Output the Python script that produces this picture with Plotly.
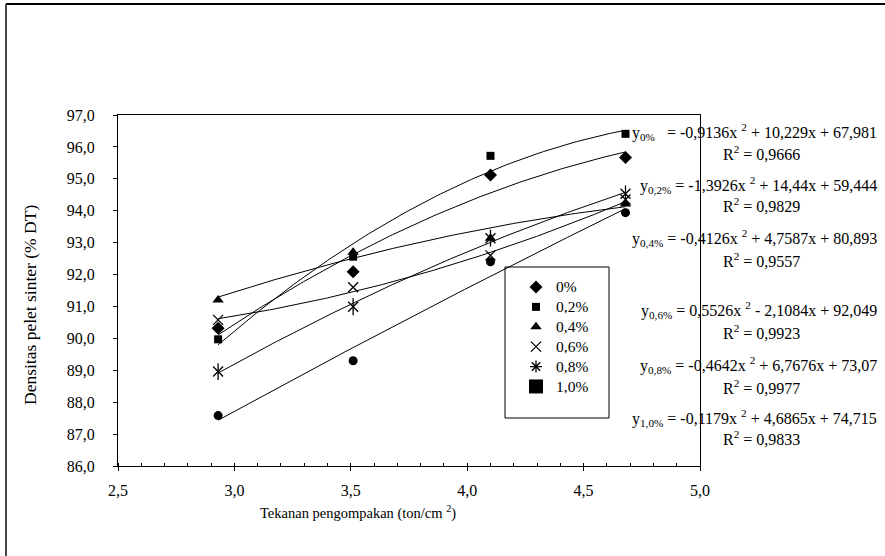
import numpy as np
import plotly.graph_objects as go

# ---------------- data ----------------
pressure = [2.93, 3.51, 4.10, 4.68]          # ton/cm^2
series_names = ["0%", "0,2%", "0,4%", "0,6%", "0,8%", "1,0%"]
dens_0 = [90.32, 92.09, 95.12, 95.67]
dens_02 = [89.97, 92.56, 95.72, 96.41]
dens_04 = [91.20, 92.70, 93.14, 94.21]
dens_06 = [90.58, 91.60, 92.60, 94.35]
dens_08 = [88.96, 90.99, 93.14, 94.53]
dens_10 = [87.58, 89.30, 92.40, 93.94]
# polynomial trend coefficients (a, b, c) as printed on the chart
coef_0 = [-0.9136, 10.229, 67.981]
coef_02 = [-1.3926, 14.44, 59.444]
coef_04 = [-0.4126, 4.7587, 80.893]
coef_06 = [0.5526, -2.1084, 92.049]
coef_08 = [-0.4642, 6.7676, 73.07]
coef_10 = [-0.1179, 4.6865, 74.715]
eq_labels = [
    "y<sub>0%</sub>   = -0,9136x <sup>2</sup> + 10,229x + 67,981",
    "y<sub>0,2%</sub> = -1,3926x <sup>2</sup> + 14,44x + 59,444",
    "y<sub>0,4%</sub> = -0,4126x <sup>2</sup> + 4,7587x + 80,893",
    "y<sub>0,6%</sub> = 0,5526x <sup>2</sup> - 2,1084x + 92,049",
    "y<sub>0,8%</sub> = -0,4642x <sup>2</sup> + 6,7676x + 73,07",
    "y<sub>1,0%</sub> = -0,1179x <sup>2</sup> + 4,6865x + 74,715",
]
r2_labels = ["R<sup>2</sup> = 0,9666", "R<sup>2</sup> = 0,9829", "R<sup>2</sup> = 0,9557",
             "R<sup>2</sup> = 0,9923", "R<sup>2</sup> = 0,9977", "R<sup>2</sup> = 0,9833"]
y_ticks = [86, 87, 88, 89, 90, 91, 92, 93, 94, 95, 96, 97]
x_ticks = [2.5, 3.0, 3.5, 4.0, 4.5, 5.0]

# ---------------- figure ----------------
W, H = 885, 556
L, R, T, B = 118, 185, 115, 90
PW, PH = W - L - R, H - T - B
FONT = "Liberation Serif, Times New Roman, serif"
FS = 16

def px(xp):
    return (xp - L) / PW

def py(yp):
    return (H - B - yp) / PH

def leg(name):
    return '<span style="font-size:15.5px">' + name + '</span>'

fig = go.Figure()

all_coef = [coef_0, coef_02, coef_04, coef_06, coef_08, coef_10]

# trend lines
xs = np.linspace(pressure[0], pressure[-1], 120)
for coef in all_coef:
    fig.add_trace(go.Scatter(x=xs, y=np.polyval(coef, xs), mode="lines",
                             line=dict(color="black", width=1),
                             showlegend=False, hoverinfo="skip"))

fig.add_trace(go.Scatter(x=pressure, y=dens_0, mode="markers", name=leg(series_names[0]),
                         marker=dict(symbol="diamond", size=10, color="black")))
fig.add_trace(go.Scatter(x=pressure, y=dens_02, mode="markers", name=leg(series_names[1]),
                         marker=dict(symbol="square", size=8, color="black")))
fig.add_trace(go.Scatter(x=pressure, y=dens_04, mode="markers", name=leg(series_names[2]),
                         marker=dict(symbol="triangle-up", size=10, color="black")))
fig.add_trace(go.Scatter(x=pressure, y=dens_06, mode="markers", name=leg(series_names[3]),
                         marker=dict(symbol="x-thin-open", size=10, color="black",
                                     line=dict(color="black", width=1.3))))
# 0.8%: X with a vertical bar (two overlaid symbols)
fig.add_trace(go.Scatter(x=pressure, y=dens_08, mode="markers", name=series_names[4],
                         marker=dict(symbol="x-thin-open", size=10, color="black",
                                     line=dict(color="black", width=1.3)),
                         showlegend=False))
fig.add_trace(go.Scatter(x=pressure, y=dens_08, mode="markers", name=series_names[4],
                         marker=dict(symbol="line-ns-open", size=12, color="black",
                                     line=dict(color="black", width=1.3)),
                         showlegend=False))
# legend version of the 0.8% marker
fig.add_trace(go.Scatter(x=[None], y=[None], mode="markers", name=leg(series_names[4]),
                         marker=dict(symbol="asterisk-open", size=10, color="black",
                                     line=dict(color="black", width=1.3))))
fig.add_trace(go.Scatter(x=pressure, y=dens_10, mode="markers", name=series_names[5],
                         marker=dict(symbol="circle", size=9, color="black"),
                         showlegend=False))
# legend shows a large square for 1,0%
fig.add_trace(go.Scatter(x=[None], y=[None], mode="markers", name=leg(series_names[5]),
                         marker=dict(symbol="square", size=14, color="black")))

ann = []
eq_y = [132, 185, 238, 310, 365, 418]
r2_y = [153, 205, 260, 332, 387, 438]
for lab, yy in zip(eq_labels, eq_y):
    ann.append(dict(xref="paper", yref="paper", x=px(879), y=py(yy), text=lab,
                    showarrow=False, xanchor="right", yanchor="middle",
                    font=dict(family=FONT, size=FS, color="black")))
for lab, yy in zip(r2_labels, r2_y):
    ann.append(dict(xref="paper", yref="paper", x=px(761), y=py(yy), text=lab,
                    showarrow=False, xanchor="center", yanchor="middle",
                    font=dict(family=FONT, size=FS, color="black")))
ann.append(dict(xref="paper", yref="paper", x=px(358), y=py(512),
                text="Tekanan pengompakan (ton/cm <sup>2</sup>)", showarrow=False,
                xanchor="center", yanchor="middle",
                font=dict(family=FONT, size=14.5, color="black")))
ann.append(dict(xref="paper", yref="paper", x=px(30), y=py(305),
                text="Densitas pelet sinter (% DT)", showarrow=False, textangle=-90,
                xanchor="center", yanchor="middle",
                font=dict(family=FONT, size=17.5, color="black")))

shapes = [
    # outer frame (top and left edges)
    dict(type="line", xref="paper", yref="paper", x0=px(6), x1=px(885), y0=py(4), y1=py(4),
         line=dict(color="black", width=2)),
    dict(type="line", xref="paper", yref="paper", x0=px(6), x1=px(6), y0=py(4), y1=py(556),
         line=dict(color="#444", width=2)),
    # legend box
    dict(type="rect", xref="paper", yref="paper", x0=px(505), x1=px(609), y0=py(418), y1=py(267),
         line=dict(color="black", width=1), fillcolor="rgba(0,0,0,0)", layer="above"),
]

axis_common = dict(showgrid=False, zeroline=False, showline=True, linecolor="black",
                   linewidth=1, mirror=True, ticks="outside", ticklen=4, tickcolor="black",
                   tickfont=dict(family=FONT, size=FS, color="black"))

fig.update_layout(
    width=W, height=H, margin=dict(l=L, r=R, t=T, b=B),
    paper_bgcolor="white", plot_bgcolor="white",
    separators=", ",
    font=dict(family=FONT, size=FS, color="black"),
    xaxis=dict(range=[2.5, 5.0], tickvals=x_ticks, tickformat=".1f",
               minor=dict(dtick=0.1, ticks="inside", ticklen=3, tickcolor="black"),
               ticklabelstandoff=6, **axis_common),
    yaxis=dict(range=[86, 97], tickvals=y_ticks, tickformat=".1f",
               ticklabelstandoff=15, **axis_common),
    showlegend=True,
    legend=dict(x=px(516), y=py(272), xanchor="left", yanchor="top",
                bgcolor="rgba(0,0,0,0)", borderwidth=0,
                font=dict(family=FONT, size=13, color="black"),
                tracegroupgap=0, itemsizing="trace"),
    annotations=ann, shapes=shapes,
)

fig.write_html("out.html")
